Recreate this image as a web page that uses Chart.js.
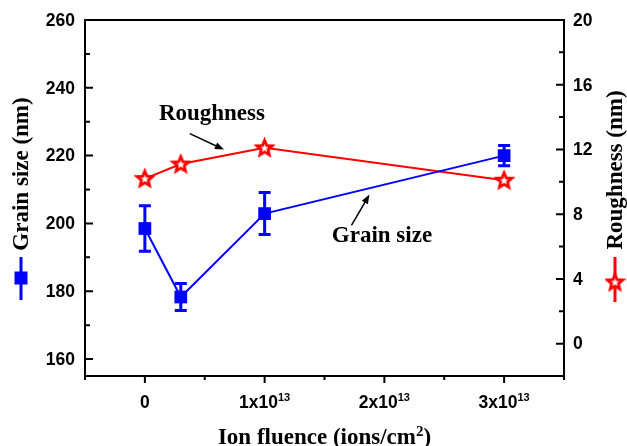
<!DOCTYPE html>
<html>
<head>
<meta charset="utf-8">
<script src="https://cdn.jsdelivr.net/npm/chart.js@4/dist/chart.umd.min.js"></script>
<style>
  html, body { margin: 0; padding: 0; background: #fff; }
  canvas { display: block; }
</style>
</head>
<body>
<canvas id="chart" width="627" height="446"></canvas>
<script>
// data
const fluence = [0, 0.3e13, 1e13, 3e13];
const grainSize = [198.5, 178.3, 202.9, 220.0];
const grainErr = [6.7, 4.0, 6.2, 3.0];
const roughness = [10.2, 11.1, 12.1, 10.1];

// axis ticks
const xTicks = [0, 1e13, 2e13, 3e13];
const xTickLabels = [['0', ''], ['1x10', '13'], ['2x10', '13'], ['3x10', '13']];
const xMinor = [-0.5e13, 0.5e13, 1.5e13, 2.5e13, 3.5e13];
const leftTicks = [160, 180, 200, 220, 240, 260];
const leftMinor = [170, 190, 210, 230, 250];
const rightTicks = [0, 4, 8, 12, 16, 20];
const rightMinor = [2, 6, 10, 14, 18];

const BLUE = '#0000ff', RED = '#ff0000';
const TICK_FONT = 'bold 17.5px "Liberation Sans", Arial, sans-serif';
const SUP_FONT = 'bold 11px "Liberation Sans", Arial, sans-serif';
const SERIF = '"Liberation Serif", "Times New Roman", serif';

// 5-point hollow star used as the roughness marker
function makeStar(size) {
    const c = document.createElement('canvas');
    c.width = size; c.height = size;
    const g = c.getContext('2d');
    const cx = size / 2, cy = size / 2 + 0.5, R = size / 2 - 2.5, r = R * 0.45;
    g.beginPath();
    for (let k = 0; k < 10; k++) {
        const a = -Math.PI / 2 + k * Math.PI / 5;
        const rr = k % 2 ? r : R;
        g.lineTo(cx + rr * Math.cos(a), cy + rr * Math.sin(a));
    }
    g.closePath();
    g.fillStyle = '#fff';
    g.fill();
    g.lineWidth = 2.8;
    g.lineJoin = 'miter';
    g.strokeStyle = RED;
    g.stroke();
    return c;
}
const starImg = makeStar(21);

function arrow(ctx, x1, y1, x2, y2) {
    const a = Math.atan2(y2 - y1, x2 - x1), L = 9, W = 3.5;
    ctx.save();
    ctx.strokeStyle = '#000'; ctx.fillStyle = '#000'; ctx.lineWidth = 1.5;
    ctx.beginPath();
    ctx.moveTo(x1, y1);
    ctx.lineTo(x2 - L * Math.cos(a) * 0.8, y2 - L * Math.sin(a) * 0.8);
    ctx.stroke();
    ctx.beginPath();
    ctx.moveTo(x2, y2);
    ctx.lineTo(x2 - L * Math.cos(a) + W * Math.sin(a), y2 - L * Math.sin(a) - W * Math.cos(a));
    ctx.lineTo(x2 - L * Math.cos(a) - W * Math.sin(a), y2 - L * Math.sin(a) + W * Math.cos(a));
    ctx.closePath();
    ctx.fill();
    ctx.restore();
}

const errorBars = {
    id: 'errorBars',
    afterDatasetsDraw(chart) {
        const {ctx, scales: {x, y}} = chart;
        ctx.save();
        ctx.strokeStyle = BLUE;
        ctx.lineWidth = 3;
        fluence.forEach((f, i) => {
            const px = x.getPixelForValue(f);
            const top = y.getPixelForValue(grainSize[i] + grainErr[i]);
            const bot = y.getPixelForValue(grainSize[i] - grainErr[i]);
            ctx.beginPath();
            ctx.moveTo(px, top); ctx.lineTo(px, bot);
            ctx.moveTo(px - 6, top); ctx.lineTo(px + 6, top);
            ctx.moveTo(px - 6, bot); ctx.lineTo(px + 6, bot);
            ctx.stroke();
        });
        ctx.restore();
    }
};

const frame = {
    id: 'frame',
    afterDraw(chart) {
        const {ctx, chartArea: a, scales: {x, y, y1}} = chart;
        ctx.save();
        ctx.strokeStyle = '#000';
        ctx.lineWidth = 2;
        ctx.beginPath();
        ctx.moveTo(a.left - 1, a.top); ctx.lineTo(a.right + 1, a.top);
        ctx.moveTo(a.left, a.bottom); ctx.lineTo(a.left, a.bottom + 4);
        ctx.moveTo(a.right, a.bottom); ctx.lineTo(a.right, a.bottom + 4);
        // tick marks: inward on the y axes, outward on x
        leftTicks.forEach(v => { const p = y.getPixelForValue(v); ctx.moveTo(a.left, p); ctx.lineTo(a.left + 8, p); });
        leftMinor.forEach(v => { const p = y.getPixelForValue(v); ctx.moveTo(a.left, p); ctx.lineTo(a.left + 5, p); });
        rightTicks.forEach(v => { const p = y1.getPixelForValue(v); ctx.moveTo(a.right, p); ctx.lineTo(a.right - 8, p); });
        rightMinor.forEach(v => { const p = y1.getPixelForValue(v); ctx.moveTo(a.right, p); ctx.lineTo(a.right - 5, p); });
        xTicks.forEach(v => { const p = x.getPixelForValue(v); ctx.moveTo(p, a.bottom); ctx.lineTo(p, a.bottom + 7); });
        xMinor.forEach(v => { const p = x.getPixelForValue(v); ctx.moveTo(p, a.bottom); ctx.lineTo(p, a.bottom + 4); });
        ctx.stroke();

        // tick labels
        ctx.fillStyle = '#000';
        ctx.font = TICK_FONT;
        ctx.textBaseline = 'middle';
        ctx.textAlign = 'right';
        leftTicks.forEach(v => ctx.fillText(String(v), a.left - 10, y.getPixelForValue(v) + 1));
        ctx.textAlign = 'left';
        rightTicks.forEach(v => ctx.fillText(String(v), a.right + 9, y1.getPixelForValue(v) + 1));
        ctx.textBaseline = 'alphabetic';
        xTicks.forEach((v, i) => {
            const [base, sup] = xTickLabels[i];
            ctx.font = TICK_FONT;
            const wb = ctx.measureText(base).width;
            ctx.font = SUP_FONT;
            const ws = sup ? ctx.measureText(sup).width : 0;
            const x0 = x.getPixelForValue(v) - (wb + ws) / 2;
            ctx.font = TICK_FONT;
            ctx.fillText(base, x0, 408);
            ctx.font = SUP_FONT;
            if (sup) ctx.fillText(sup, x0 + wb, 401);
        });

        // x title with superscript
        ctx.font = 'bold 23px ' + SERIF;
        const t1 = 'Ion fluence (ions/cm', t3 = ')';
        const w1 = ctx.measureText(t1).width, w3 = ctx.measureText(t3).width;
        ctx.font = 'bold 15px ' + SERIF;
        const w2 = ctx.measureText('2').width;
        let tx = (a.left + a.right) / 2 - (w1 + w2 + w3) / 2;
        ctx.font = 'bold 23px ' + SERIF;
        ctx.fillText(t1, tx, 444);
        ctx.font = 'bold 15px ' + SERIF;
        ctx.fillText('2', tx + w1, 436);
        ctx.font = 'bold 23px ' + SERIF;
        ctx.fillText(t3, tx + w1 + w2, 444);

        // left title + legend marker
        ctx.save();
        ctx.translate(28, 174);
        ctx.rotate(-Math.PI / 2);
        ctx.textAlign = 'center';
        ctx.fillText('Grain size (nm)', 0, 0);
        ctx.restore();
        ctx.strokeStyle = BLUE; ctx.fillStyle = BLUE; ctx.lineWidth = 3;
        ctx.beginPath(); ctx.moveTo(21, 257); ctx.lineTo(21, 300); ctx.stroke();
        ctx.fillRect(14.5, 271.5, 13, 13);

        // right title + legend marker
        ctx.fillStyle = '#000';
        ctx.save();
        ctx.translate(622, 170);
        ctx.rotate(-Math.PI / 2);
        ctx.textAlign = 'center';
        ctx.fillText('Roughness (nm)', 0, 0);
        ctx.restore();
        ctx.strokeStyle = RED; ctx.lineWidth = 3;
        ctx.beginPath(); ctx.moveTo(615, 257); ctx.lineTo(615, 302); ctx.stroke();
        ctx.drawImage(starImg, 615 - starImg.width / 2, 282 - starImg.height / 2);

        // annotations (placed in data units of the bottom / left axes)
        ctx.fillStyle = '#000';
        ctx.textAlign = 'center';
        ctx.font = 'bold 23px ' + SERIF;
        ctx.fillText('Roughness', x.getPixelForValue(0.56e13), y.getPixelForValue(230.6));
        arrow(ctx, x.getPixelForValue(0.375e13), y.getPixelForValue(226.5), x.getPixelForValue(0.66e13), y.getPixelForValue(221.8));
        ctx.fillText('Grain size', x.getPixelForValue(1.98e13), y.getPixelForValue(194.4));
        arrow(ctx, x.getPixelForValue(1.725e13), y.getPixelForValue(199.4), x.getPixelForValue(1.875e13), y.getPixelForValue(208.5));
        ctx.restore();
    }
};

const axisBase = {
    grid: { display: false, drawTicks: false },
    ticks: { display: false },
    border: { display: true, color: '#000', width: 2 }
};

new Chart(document.getElementById('chart'), {
    type: 'line',
    data: {
        datasets: [
            {
                label: 'Grain size',
                data: fluence.map((f, i) => ({ x: f, y: grainSize[i] })),
                yAxisID: 'y',
                borderColor: BLUE,
                backgroundColor: BLUE,
                borderWidth: 2,
                pointStyle: 'rect',
                pointRadius: 9,
                pointBorderWidth: 0,
                tension: 0
            },
            {
                label: 'Roughness',
                data: fluence.map((f, i) => ({ x: f, y: roughness[i] })),
                yAxisID: 'y1',
                borderColor: RED,
                backgroundColor: RED,
                borderWidth: 2,
                pointStyle: starImg,
                pointRadius: 9,
                tension: 0
            }
        ]
    },
    options: {
        responsive: false,
        animation: false,
        devicePixelRatio: 1,
        layout: { padding: { left: 85, top: 20, right: 63, bottom: 70 } },
        plugins: { legend: { display: false }, tooltip: { enabled: false } },
        scales: {
            x: { ...axisBase, type: 'linear', position: 'bottom', min: -0.5e13, max: 3.5e13,
                 afterBuildTicks: s => { s.ticks = xTicks.map(v => ({ value: v })); } },
            y: { ...axisBase, position: 'left', min: 155, max: 260,
                 afterBuildTicks: s => { s.ticks = leftTicks.map(v => ({ value: v })); } },
            y1: { ...axisBase, position: 'right', min: -2, max: 20,
                  afterBuildTicks: s => { s.ticks = rightTicks.map(v => ({ value: v })); } }
        }
    },
    plugins: [errorBars, frame]
});
</script>
</body>
</html>
